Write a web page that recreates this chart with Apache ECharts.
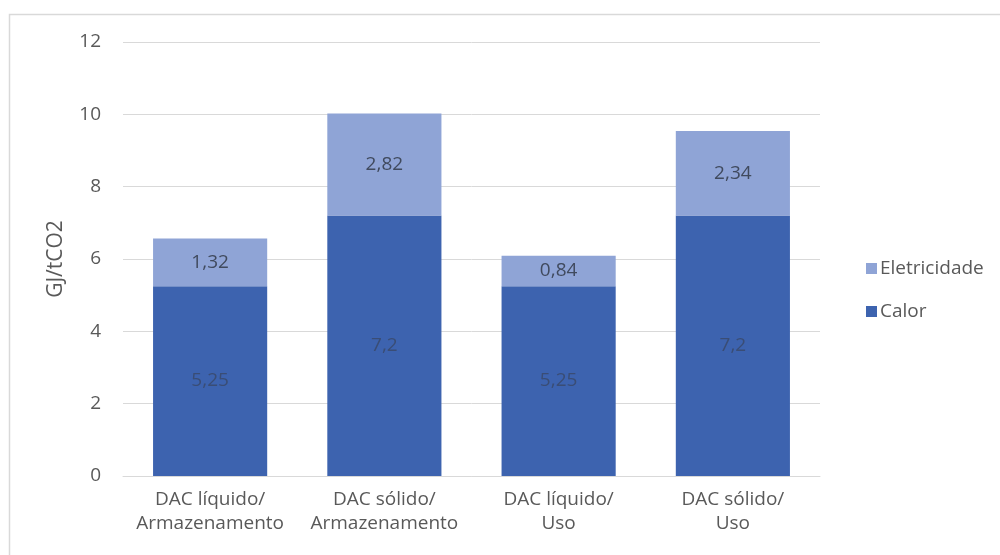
<!DOCTYPE html>
<html>
<head>
<meta charset="utf-8">
<script src="https://cdn.jsdelivr.net/npm/echarts@6/dist/echarts.min.js"></script>
<style>
  html, body { margin: 0; padding: 0; background: #fff; }
  #chart { width: 1000px; height: 555px; }
</style>
</head>
<body>
<div id="chart"></div>
<script>
// Energy demand per tonne of CO2 captured, split into heat and electricity
const categories = [
  'DAC líquido/\nArmazenamento',
  'DAC sólido/\nArmazenamento',
  'DAC líquido/\nUso',
  'DAC sólido/\nUso'
];
const calor = [5.25, 7.2, 5.25, 7.2];
const eletricidade = [1.32, 2.82, 0.84, 2.34];
const yTicks = { min: 0, max: 12, interval: 2 };

const FONT = '"Open Sans", "Noto Sans", sans-serif';
const TEXT = '#595959';
const fmt = p => String(p.value).replace('.', ',');

const chart = echarts.init(document.getElementById('chart'));
chart.setOption({
  animation: false,
  textStyle: { fontFamily: FONT },
  graphic: [{
    type: 'rect',
    left: 7, top: 12,
    shape: { width: 1000, height: 560 },
    style: { fill: 'none', stroke: '#d9d9d9', lineWidth: 1.5 },
    silent: true
  }],
  grid: { left: 123, right: 180, top: 42, bottom: 79 },
  legend: {
    orient: 'vertical',
    left: 861, top: 254,
    itemWidth: 11, itemHeight: 11, itemGap: 24,
    icon: 'rect',
    data: ['Eletricidade', 'Calor'],
    textStyle: { color: TEXT, fontSize: 19, fontFamily: FONT, padding: [0, 0, 0, -2] }
  },
  xAxis: {
    type: 'category',
    data: categories,
    axisLine: { lineStyle: { color: '#d9d9d9', width: 1 } },
    axisTick: { show: false },
    axisLabel: { interval: 0, color: TEXT, fontSize: 19, lineHeight: 24, margin: 12, fontFamily: FONT }
  },
  yAxis: {
    type: 'value',
    min: yTicks.min, max: yTicks.max, interval: yTicks.interval,
    name: 'GJ/tCO2',
    nameLocation: 'middle',
    nameGap: 56,
    nameTextStyle: { color: TEXT, fontSize: 21, fontFamily: FONT },
    axisLine: { show: false },
    axisTick: { show: false },
    axisLabel: { color: TEXT, fontSize: 19, margin: 22, fontFamily: FONT },
    splitLine: { lineStyle: { color: '#d9d9d9', width: 1 } }
  },
  series: [
    {
      name: 'Calor', type: 'bar', stack: 'total',
      data: calor,
      barWidth: '65.5%',
      itemStyle: { color: '#3D63AF' },
      label: { show: true, position: 'inside', formatter: fmt, color: '#3a4d75', fontSize: 19, fontFamily: FONT }
    },
    {
      name: 'Eletricidade', type: 'bar', stack: 'total',
      data: eletricidade,
      barWidth: '65.5%',
      itemStyle: { color: '#8FA4D6' },
      label: { show: true, position: 'inside', formatter: fmt, color: '#404a5e', fontSize: 19, fontFamily: FONT }
    }
  ]
});
</script>
</body>
</html>
